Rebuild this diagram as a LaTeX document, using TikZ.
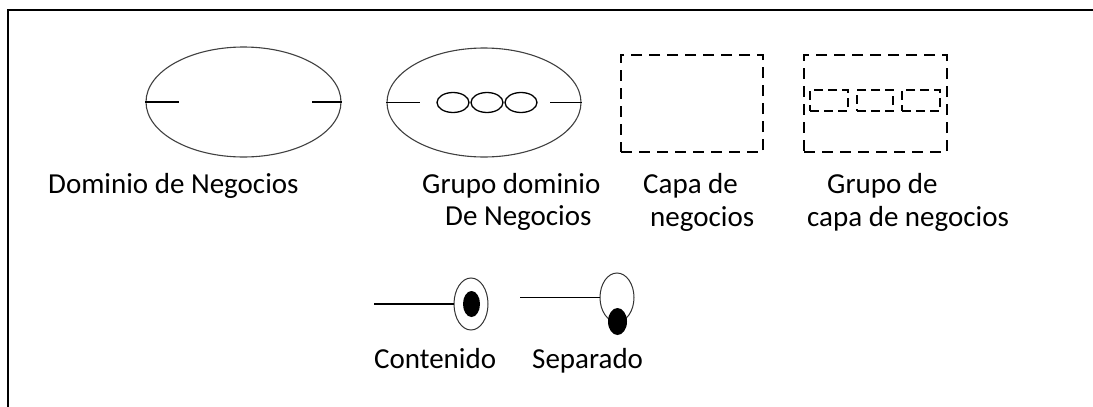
\documentclass[tikz,border=0pt]{standalone}
\usepackage{fontspec}
\setmainfont{Carlito}
\usetikzlibrary{shapes.geometric}
\begin{document}
\begin{tikzpicture}[x=1pt,y=-1pt,
  oval/.style={ellipse, draw=black!75, line width=1.1pt, inner sep=0pt},
  tickline/.style={line width=1.2pt},
  smalloval/.style={ellipse, draw, line width=1.3pt, inner sep=0pt, minimum width=32pt, minimum height=20pt},
  layerbox/.style={draw, dash pattern=on 11pt off 7pt, line width=1.1pt, inner sep=0pt},
  innerbox/.style={draw, dash pattern=on 9pt off 5pt, line width=1.1pt, inner sep=0pt, minimum height=21pt},
  ring/.style={ellipse, draw=black!80, line width=1pt, inner sep=0pt, minimum width=34pt},
  dot/.style={ellipse, fill=black, inner sep=0pt},
  lbl/.style={anchor=base west, inner sep=0pt, font=\fontsize{29}{33}\selectfont}]
\useasboundingbox (0,0) rectangle (1093,407);
% frame (top and left edges)
\draw[line width=2.5pt] (8,407) -- (8,10) -- (1093,10);

% Dominio de Negocios
\node[oval, minimum width=195pt, minimum height=110pt] (dom) at (243.5,102) {};
\coordinate (domL) at (179,102);
\coordinate (domR) at (312,102);
\draw[tickline] (dom.west) -- (domL);
\draw[tickline] (domR) -- (dom.east);
\node[lbl] (lblDom) at (48,193) {Dominio de Negocios};

% Grupo dominio de Negocios
\node[oval, minimum width=194pt, minimum height=109pt] (grp) at (484,102.5) {};
\coordinate (grpL) at (420,102.5);
\coordinate (grpR) at (550,102.5);
\draw[tickline] (grp.west) -- (grpL);
\draw[tickline] (grpR) -- (grp.east);
\node[smalloval] (c1) at (453,102.5) {};
\node[smalloval] (c2) at (487,102.5) {};
\node[smalloval] (c3) at (521,102.5) {};
\node[lbl] (lblGrpA) at (422,193) {Grupo dominio};
\node[lbl] (lblGrpB) at (445,225) {De Negocios};

% Capa de negocios
\node[layerbox, minimum width=142pt, minimum height=97pt] (capa) at (692,103.5) {};
\node[lbl] (lblCapaA) at (643,193) {Capa de};
\node[lbl] (lblCapaB) at (650,226) {negocios};

% Grupo de capa de negocios
\node[layerbox, minimum width=143pt, minimum height=97pt] (gcapa) at (875.5,103.5) {};
\node[innerbox, minimum width=38pt] (b1) at (829,100.5) {};
\node[innerbox, minimum width=36pt] (b2) at (875,100.5) {};
\node[innerbox, minimum width=38pt] (b3) at (921,100.5) {};
\node[lbl] (lblGcA) at (827,193) {Grupo de};
\node[lbl] (lblGcB) at (807,226) {capa de negocios};

% Contenido
\node[ring, minimum height=52pt] (cont) at (471,304) {};
\node[dot, minimum width=17pt, minimum height=26pt] (contdot) at (471.5,304) {};
\coordinate (contS) at (374,304);
\draw[tickline] (contS) -- (cont.west);
\node[lbl] (lblCont) at (374,368) {Contenido};

% Separado
\node[ring, minimum height=49pt] (sep) at (617,297.5) {};
\node[dot, minimum width=19pt, minimum height=27pt] (sepdot) at (617.5,321.5) {};
\coordinate (sepS) at (520,297.5);
\draw[tickline] (sepS) -- (sep.west);
\node[lbl] (lblSep) at (532,368) {Separado};
\end{tikzpicture}
\end{document}
